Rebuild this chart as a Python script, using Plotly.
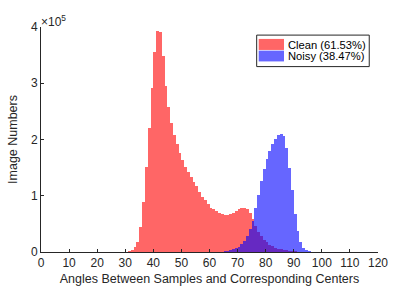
import plotly.graph_objects as go

# Bin start angles (1-degree bins) and counts
clean_angles = list(range(30, 95))
clean_counts = [500, 1500, 4000, 9000, 18000, 45000, 89000, 152000, 221000, 292000,
                355000, 393000, 391000, 348000, 296000, 258000, 229000, 208000, 192000, 176000,
                163000, 152000, 142000, 133000, 125000, 117000, 107000, 98000, 92000, 85000,
                79000, 76000, 73000, 70000, 67000, 66000, 66000, 68000, 70000, 73000,
                76000, 78000, 79000, 77000, 70000, 58000, 46000, 36000, 28000, 22000,
                17000, 13000, 10000, 8000, 6000, 5000, 4000, 3000, 2200, 1600,
                1200, 800, 500, 300, 200]

noisy_angles = list(range(60, 98))
noisy_counts = [100, 200, 300, 500, 800, 1300, 2000, 3000, 4500, 6500,
                9500, 14000, 20000, 29000, 41000, 55000, 78000, 102000, 126000, 148000,
                166000, 180000, 192000, 201000, 208000, 210000, 206000, 185000, 150000, 110000,
                68000, 38000, 18000, 8000, 3000, 1000, 400, 150]

series_names = ["Clean (61.53%)", "Noisy (38.47%)"]
series_colors = ["rgba(255,0,0,0.6)", "rgba(0,0,255,0.6)"]
x_ticks = list(range(0, 121, 10))
y_ticks = [0, 100000, 200000, 300000, 400000]
y_tick_text = ["0", "1", "2", "3", "4"]

FONT = "Liberation Sans, Arial, Helvetica, sans-serif"
AX = "#262626"
FS = 12

fig = go.Figure()
fig.add_trace(go.Bar(x=[a + 0.5 for a in clean_angles], y=clean_counts, width=1,
                     name=series_names[0], showlegend=False,
                     marker=dict(color=series_colors[0], line=dict(width=0))))
fig.add_trace(go.Bar(x=[a + 0.5 for a in noisy_angles], y=noisy_counts, width=1,
                     name=series_names[1], showlegend=False,
                     marker=dict(color=series_colors[1], line=dict(width=0))))

# Manual MATLAB-style legend (wide patches)
shapes = [
    dict(type="rect", xref="paper", yref="paper", x0=0.640, x1=0.974, y0=0.824, y1=0.964,
         line=dict(color=AX, width=1), fillcolor="white", layer="above"),
    dict(type="rect", xref="paper", yref="paper", x0=0.646, x1=0.721, y0=0.898, y1=0.947,
         line=dict(width=0), fillcolor=series_colors[0], layer="above"),
    dict(type="rect", xref="paper", yref="paper", x0=0.646, x1=0.721, y0=0.847, y1=0.895,
         line=dict(width=0), fillcolor=series_colors[1], layer="above"),
]
annotations = [
    dict(text=series_names[0], x=0.726, y=0.921, xref="paper", yref="paper",
         xanchor="left", yanchor="middle", showarrow=False, font=dict(size=11.2, color="black")),
    dict(text=series_names[1], x=0.726, y=0.870, xref="paper", yref="paper",
         xanchor="left", yanchor="middle", showarrow=False, font=dict(size=11.2, color="black")),
    dict(text="×10<sup>5</sup>", x=0, y=1, xref="paper", yref="paper",
         xanchor="left", yanchor="bottom", showarrow=False, xshift=-2,
         font=dict(size=FS, color=AX), yshift=-4),
]

fig.update_layout(
    width=399, height=299,
    margin=dict(l=41, r=21, t=27, b=47),
    barmode="overlay", bargap=0,
    plot_bgcolor="white", paper_bgcolor="white",
    font=dict(family=FONT, size=FS, color=AX),
    shapes=shapes, annotations=annotations,
    xaxis=dict(range=[0, 120], tickvals=x_ticks, ticks="inside", ticklen=3,
               tickcolor=AX, showline=True, linecolor=AX, linewidth=1,
               showgrid=False, zeroline=False, automargin=False,
               tickfont=dict(size=FS, color=AX),
               title=dict(text="Angles Between Samples and Corresponding Centers",
                          font=dict(size=12.5, color=AX), standoff=4)),
    yaxis=dict(range=[0, 400000], tickvals=y_ticks, ticktext=y_tick_text,
               ticks="inside", ticklen=3, tickcolor=AX, showline=True,
               linecolor=AX, linewidth=1, showgrid=False, zeroline=False,
               automargin=False, tickfont=dict(size=FS, color=AX),
               title=dict(text="Image Numbers", font=dict(size=12.5, color=AX), standoff=10)),
)

fig.write_html("out.html", config={"displayModeBar": False},
               post_script="document.body.style.margin='0';")
